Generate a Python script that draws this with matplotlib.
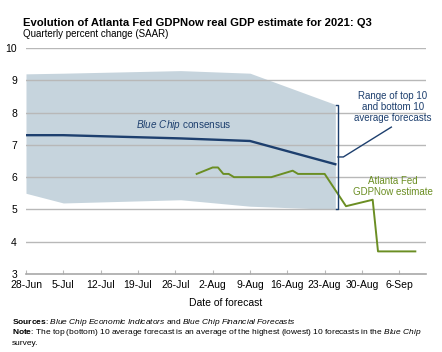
import matplotlib
matplotlib.use("Agg")
import matplotlib.pyplot as plt
import matplotlib.dates as mdates
import numpy as np
import pandas as pd

plt.rcParams['font.family'] = ['Liberation Sans', 'DejaVu Sans']
plt.rcParams['mathtext.fontset'] = 'custom'
plt.rcParams['mathtext.rm'] = 'Liberation Sans'
plt.rcParams['mathtext.it'] = 'Liberation Sans:italic'
plt.rcParams['mathtext.bf'] = 'Liberation Sans:bold'

# Blue Chip survey points (range of top/bottom 10 and consensus)
bc_dates = pd.to_datetime(["2021-06-28", "2021-07-05", "2021-07-27", "2021-08-09", "2021-08-25"])
bc_top10 = [9.2, 9.22, 9.3, 9.22, 8.25]
bc_bottom10 = [5.5, 5.2, 5.3, 5.1, 5.0]
bc_consensus = [7.3, 7.3, 7.2, 7.12, 6.4]

# GDPNow estimates
gdp_dates = pd.to_datetime(["2021-07-30", "2021-08-02", "2021-08-03", "2021-08-04", "2021-08-05",
                            "2021-08-06", "2021-08-13", "2021-08-17", "2021-08-18", "2021-08-23",
                            "2021-08-27", "2021-09-01", "2021-09-02", "2021-09-09"])
gdp_now = [6.1, 6.3, 6.3, 6.1, 6.1, 6.0, 6.0, 6.2, 6.1, 6.1, 5.1, 5.3, 3.7, 3.7]

tick_dates = pd.date_range("2021-06-28", "2021-09-06", freq="7D")

navy = "#1d3f6e"
green = "#6b8e23"
band_col = "#c6d4dd"
grid_col = "#b8b8b8"

fig = plt.figure(figsize=(4.42, 3.52), dpi=100)
ax = fig.add_axes([0.0588, 0.2216, 0.905, 0.642])

ax.fill_between(bc_dates, bc_bottom10, bc_top10, color=band_col, lw=0, zorder=1)
for v in range(4, 11):
    ax.axhline(v, color=grid_col, lw=1, zorder=2)
ax.plot(bc_dates, bc_consensus, color=navy, lw=1.7, zorder=3)
ax.plot(gdp_dates, gdp_now, color=green, lw=1.4, zorder=4)

# bracket for range
bx = bc_dates[-1] + pd.Timedelta(hours=12)
hook = pd.Timedelta(hours=10)
ax.plot([bx - hook, bx, bx, bx - hook], [bc_top10[-1], bc_top10[-1], bc_bottom10[-1], bc_bottom10[-1]],
        color=navy, lw=1, zorder=5)
ymid = (bc_top10[-1] + bc_bottom10[-1]) / 2
ax.plot([bx, bx + pd.Timedelta(days=1), pd.Timestamp("2021-09-04 12:00")],
        [ymid, ymid, 7.55], color=navy, lw=1, zorder=5)

ax.text(pd.Timestamp("2021-09-04 18:00"), 8.17, "Range of top 10\nand bottom 10\naverage forecasts",
        ha="center", va="center", fontsize=7, color=navy, linespacing=1.15)
ax.text(pd.Timestamp("2021-09-04 18:00"), 5.7, "Atlanta Fed\nGDPNow estimate",
        ha="center", va="center", fontsize=7, color=green, linespacing=1.15)
ax.text(pd.Timestamp("2021-07-27 12:00"), 7.62, r"$\it{Blue\ Chip}$ consensus", ha="center", va="center",
        fontsize=7.2, color=navy)

ax.set_xlim(pd.Timestamp("2021-06-28"), pd.Timestamp("2021-09-11"))
ax.set_ylim(3, 10)
ax.set_yticks(range(3, 11))
ax.set_xticks(tick_dates)
ax.xaxis.set_major_formatter(mdates.DateFormatter("%-d-%b"))
ax.tick_params(axis="y", length=0, labelsize=7.5, pad=6.5)
ax.tick_params(axis="x", length=3, direction="in", color=grid_col, labelsize=7.5, pad=4)
for s in ["top", "right", "left"]:
    ax.spines[s].set_visible(False)
ax.spines["bottom"].set_color("#a8a8a8")
ax.spines["bottom"].set_linewidth(1.2)
ax.set_xlabel("Date of forecast", fontsize=7.5, labelpad=6)

fig.text(0.052, 0.925, "Evolution of Atlanta Fed GDPNow real GDP estimate for 2021: Q3",
         fontsize=8.1, fontweight="bold")
fig.text(0.052, 0.895, "Quarterly percent change (SAAR)", fontsize=7)
fig.text(0.027, 0.08, r"$\bf{Sources}$: $\it{Blue\ Chip\ Economic\ Indicators}$ and $\it{Blue\ Chip\ Financial\ Forecasts}$",
         fontsize=6)
fig.text(0.027, 0.02, r"$\bf{Note}$: The top (bottom) 10 average forecast is an average of the highest (lowest) 10 forecasts in the $\it{Blue\ Chip}$" + "\nsurvey.",
         fontsize=6, linespacing=1.3)

fig.savefig("out.png", dpi=100)
